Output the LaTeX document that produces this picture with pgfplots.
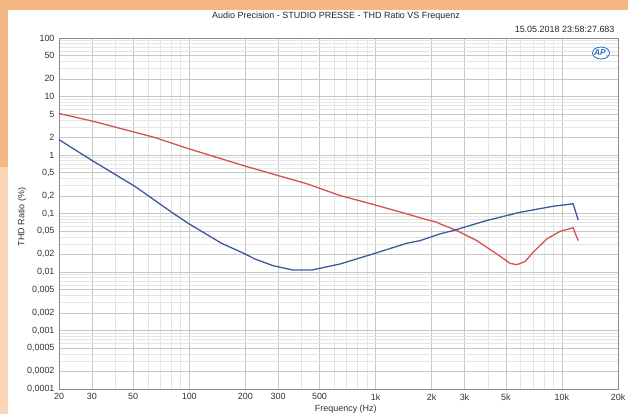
\documentclass[border=0pt]{standalone}
\usepackage{pgfplots}
\pgfplotsset{compat=1.18}
\usepackage{fontspec}
\setmainfont{Liberation Sans}
\definecolor{bgor}{RGB}{245,183,130}
\definecolor{bgorl}{RGB}{250,212,182}
\definecolor{cred}{RGB}{212,82,82}
\definecolor{cblue}{RGB}{62,88,156}
\definecolor{apblue}{RGB}{40,110,200}
\begin{document}
\begin{tikzpicture}[x=1bp,y=1bp]
\path[use as bounding box] (0,0) rectangle (628,414);
\fill[white] (0,0) rectangle (628,414);
\fill[bgor] (0,404) rectangle (628,414);
\fill[bgor] (0,247) rectangle (8,404);
\fill[bgorl] (0,0) rectangle (8,247);
\begin{axis}[
  at={(59bp,25bp)}, anchor=south west,
  scale only axis, width=559bp, height=351bp,
  xmode=log, ymode=log,
  xmin=20, xmax=20000, ymin=0.0001, ymax=100,
  xtick={20,30,50,100,200,300,500,1000,2000,3000,5000,10000,20000},
  xticklabels={20,30,50,100,200,300,500,1k,2k,3k,5k,10k,20k},
  ytick={100,50,20,10,5,2,1,0.5,0.2,0.1,0.05,0.02,0.01,0.005,0.002,0.001,0.0005,0.0002,0.0001},
  yticklabels={100,50,20,10,5,2,1,{0,5},{0,2},{0,1},{0,05},{0,02},{0,01},{0,005},{0,002},{0,001},{0,0005},{0,0002},{0,0001}},
  minor xtick={40,60,70,80,90,400,600,700,800,900,4000,6000,7000,8000,9000},
  minor ytick={0.0003,0.0004,0.0006,0.0007,0.0008,0.0009,0.003,0.004,0.006,0.007,0.008,0.009,0.03,0.04,0.06,0.07,0.08,0.09,0.3,0.4,0.6,0.7,0.8,0.9,3,4,6,7,8,9,30,40,60,70,80,90},
  grid=both,
  major grid style={draw=black!22, line width=0.5pt},
  minor grid style={draw=black!10, line width=0.5pt},
  axis line style={draw=black!45},
  tick style={draw=none},
  ticklabel style={font=\fontsize{9}{9}\selectfont, text=black!80},
  xticklabel style={yshift=-1bp},
  yticklabel style={xshift=-1bp},
  xlabel={Frequency (Hz)}, ylabel={THD Ratio (\%)},
  label style={font=\fontsize{9}{9}\selectfont, text=black!80},
  xlabel style={at={(axis description cs:0.513,0)}, anchor=center, yshift=-20bp},
  ylabel style={at={(axis description cs:0,0.49)}, anchor=center, rotate=0, yshift=37bp},
  clip=false,
]
\addplot[cred, line width=1.3pt] coordinates {
(20,5.12) (30,3.82) (65.5,1.99) (98.5,1.29) (199,0.647) (427,0.323) (644,0.203) (970,0.143) (1470,0.0988) (1734,0.0843) (2130,0.0709) (2220,0.0665) (2728,0.0511) (3492,0.0344) (4470,0.0204) (5272,0.01406) (5728,0.01334) (6340,0.01503) (7000,0.0217) (8300,0.0368) (9780,0.0497) (11480,0.0569) (12220,0.0344)
};
\addplot[cblue, line width=1.3pt] coordinates {
(20,1.83) (30,0.810) (51.2,0.290) (80.5,0.105) (98.5,0.0682) (149,0.0310) (199,0.0204) (225,0.0167) (282,0.0128) (361,0.0108) (454,0.0108) (644,0.0137) (970,0.0204) (1470,0.0310) (1734,0.0344) (2220,0.0449) (2606,0.0511) (3952,0.0759) (5966,0.105) (8970,0.133) (11480,0.1466) (12220,0.078)
};
\end{axis}
\node[font=\fontsize{9}{9}\selectfont, text=black!85] at (336,398) {Audio Precision - STUDIO PRESSE - THD Ratio VS Frequenz};
\node[font=\fontsize{9}{9}\selectfont, text=black!85, anchor=east] at (618,385) {15.05.2018 23:58:27.683};
\draw[apblue, line width=0.8pt] (601,361) ellipse (8.5 and 6);
\node[font=\bfseries\itshape\fontsize{8.5}{8.5}\selectfont, text=apblue, fill=white, inner sep=0.3pt] at (600,361) {AP};
\end{tikzpicture}
\end{document}
